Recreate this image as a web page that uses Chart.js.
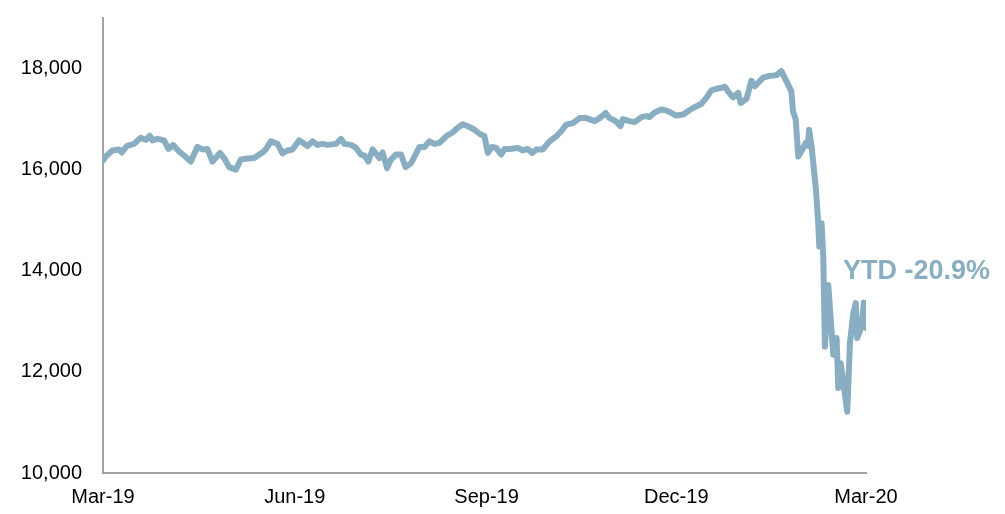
<!DOCTYPE html>
<html>
<head>
<meta charset="utf-8">
<script src="https://cdn.jsdelivr.net/npm/chart.js@4/dist/chart.umd.min.js"></script>
<style>
  html, body { margin: 0; padding: 0; background: #fff; }
  #wrap { width: 1005px; height: 514px; }
</style>
</head>
<body>
<div id="wrap"><canvas id="indexChart"></canvas></div>
<script>
  // days since 1 Mar 2019, and the index close on that day
  var dayOffset = [
    0, 1.3, 4.5, 7.6, 9.0, 11.5, 14.9, 18.1, 20.5, 22.4, 23.7, 26.1, 29.3, 31.4, 33.6,
    36.5, 39.4, 42.1, 45.3, 47.7, 50.1, 52.5, 56.1, 58.1, 60.5, 63.7, 66.1, 69.3, 72.5,
    76.5, 78.1, 80.5, 83.7, 86.1, 88.5, 90.9, 94.1, 98.1, 100.5, 102.9, 105.3, 107.7,
    111.8, 114.2, 115.8, 119.0, 121.4, 123.7, 125.4, 127.3, 129.3, 132.6, 134.1, 136.3,
    138.1, 140.6, 143.0, 145.1, 147.8, 151.8, 154.2, 156.6, 159.0, 161.4, 164.6, 167.8,
    170.2, 172.6, 175.0, 178.2, 180.6, 183.0, 184.6, 186.5, 188.6, 191.0, 192.6, 195.0,
    199.0, 201.4, 203.8, 205.9, 207.8, 211.0, 214.2, 217.4, 219.8, 222.2, 225.4, 228.6,
    231.8, 235.8, 238.2, 241.1, 243.0, 245.9, 248.2, 249.4, 252.6, 255.0, 258.3, 260.6,
    262.2, 264.6, 267.8, 270.2, 272.7, 275.0, 278.3, 281.1, 283.9, 287.0, 289.4, 291.8,
    294.3, 296.6, 298.3, 299.8, 302.2, 304.7, 305.9, 308.7, 311.0, 312.7, 316.7, 319.1,
    323.1, 325.4, 327.8, 330.2, 331.0, 332.3, 333.5, 335.5, 337.1, 338.1, 338.7, 339.9,
    342.0, 343.1, 343.6, 344.7, 345.5, 346.3, 347.9, 349.5, 350.3, 351.9, 352.7, 353.9,
    357.0, 358.3, 359.9, 361.1, 361.8, 363.9, 365.0, 366.0
  ];
  var closeValues = [
    16180, 16260, 16380, 16400, 16340, 16470, 16510, 16630, 16590, 16670, 16580, 16610, 16580, 16410, 16490,
    16360, 16260, 16160, 16450, 16400, 16410, 16160, 16330, 16230, 16050, 16000, 16200, 16220, 16230,
    16340, 16400, 16560, 16510, 16320, 16380, 16400, 16580, 16470, 16560, 16490, 16510, 16490,
    16510, 16610, 16510, 16490, 16430, 16300, 16280, 16160, 16400, 16230, 16340, 16030,
    16200, 16300, 16300, 16050, 16130, 16450, 16450, 16560, 16510, 16530, 16660, 16740,
    16830, 16900, 16860, 16790, 16710, 16660, 16330, 16450, 16430, 16300, 16410, 16410,
    16430, 16380, 16410, 16330, 16400, 16400, 16560, 16660, 16760, 16890, 16920, 17020,
    17020, 16960, 17020, 17120, 17020, 16960, 16860, 17000, 16960, 16940, 17040, 17060,
    17040, 17130, 17190, 17170, 17120, 17070, 17090, 17170, 17240, 17300, 17420, 17570,
    17600, 17620, 17640, 17550, 17430, 17520, 17320, 17400, 17760, 17650, 17820, 17850,
    17870, 17950, 17750, 17550, 17150, 16990, 16260, 16400, 16530, 16470, 16790, 16460,
    15600, 14940, 14480, 14940, 14280, 12500, 13720, 12800, 12340, 12670, 11680, 12170,
    11210, 12570, 13160, 13360, 12670, 12900, 13370, 12870
  ];

  var tickDays = [0, 92, 184, 275, 366];
  var tickLabels = ['Mar-19', 'Jun-19', 'Sep-19', 'Dec-19', 'Mar-20'];
  var yTickValues = [10000, 12000, 14000, 16000, 18000];
  var ytdText = 'YTD -20.9%';

  var lineColor = '#89aec1';
  var axisColor = '#a3a3a3';
  var fontFamily = '"Liberation Sans", Arial, sans-serif';

  var points = dayOffset.map(function (d, i) {
    return { x: d, y: closeValues[i] };
  });

  // text next to the last part of the line
  var ytdLabel = {
    id: 'ytdLabel',
    afterDraw: function (chart) {
      var ctx = chart.ctx;
      var xs = chart.scales.x, ys = chart.scales.y;
      ctx.save();
      ctx.font = 'bold 27px ' + fontFamily;
      ctx.fillStyle = lineColor;
      ctx.textAlign = 'left';
      ctx.textBaseline = 'middle';
      ctx.fillText(ytdText, xs.getPixelForValue(dayOffset[dayOffset.length - 1]) - 23,
        ys.getPixelForValue(13990));
      ctx.restore();
    }
  };

  var ctx = document.getElementById('indexChart').getContext('2d');
  var indexChart = new Chart(ctx, {
    type: 'line',
    data: {
      datasets: [{
        data: points,
        borderColor: lineColor,
        borderWidth: 6,
        borderJoinStyle: 'round',
        borderCapStyle: 'round',
        pointRadius: 0,
        tension: 0,
        fill: false
      }]
    },
    options: {
      responsive: true,
      maintainAspectRatio: false,
      animation: false,
      layout: { padding: { top: 18, right: 139, left: 0, bottom: 0 } },
      plugins: {
        legend: { display: false },
        tooltip: { enabled: false }
      },
      scales: {
        x: {
          type: 'linear',
          min: 0,
          max: 366,
          grid: { display: false, drawTicks: false },
          border: { display: true, color: axisColor, width: 2 },
          afterBuildTicks: function (axis) {
            axis.ticks = tickDays.map(function (d) { return { value: d }; });
          },
          afterFit: function (axis) { axis.height = 41; },
          ticks: {
            autoSkip: false,
            maxRotation: 0,
            padding: 12,
            color: '#000',
            font: { family: fontFamily, size: 20 },
            callback: function (value) {
              var i = tickDays.indexOf(value);
              return i >= 0 ? tickLabels[i] : '';
            }
          }
        },
        y: {
          min: 10000,
          max: 19000,
          grid: { display: false, drawTicks: false },
          border: { display: true, color: axisColor, width: 2 },
          afterBuildTicks: function (axis) {
            axis.ticks = yTickValues.map(function (v) { return { value: v }; });
          },
          afterFit: function (axis) {
            // the label gap should not push the plot area down
            axis.width = 103;
            axis.paddingTop = 0;
            axis.paddingBottom = 0;
          },
          ticks: {
            padding: 21,
            color: '#000',
            font: { family: fontFamily, size: 20 },
            callback: function (value) { return value.toLocaleString('en-US'); }
          }
        }
      }
    },
    plugins: [ytdLabel]
  });
</script>
</body>
</html>
